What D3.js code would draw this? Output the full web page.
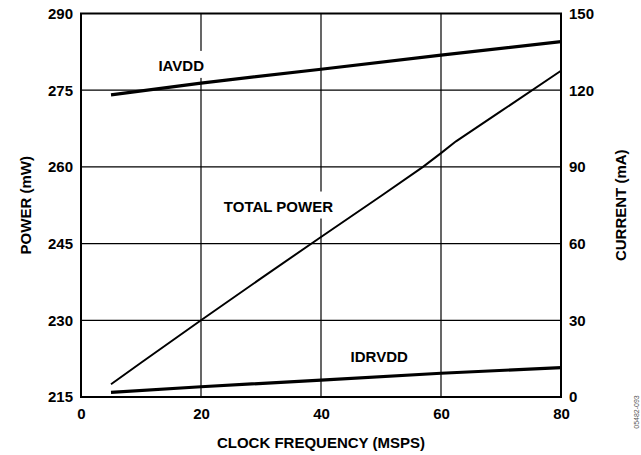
<!DOCTYPE html>
<html>
<head>
<meta charset="utf-8">
<script src="https://cdn.jsdelivr.net/npm/d3@7"></script>
<style>
  body { margin: 0; background: #fff; }
  text { font-family: "Liberation Sans", Arial, sans-serif; font-weight: bold; fill: #000; }
</style>
</head>
<body>
<div id="chart"></div>
<script>
// clock frequency (MSPS) for each series
var freqTotal = [5, 10, 20, 30, 40, 50, 57, 60, 62.5, 70, 80];
var totalPower = [217.5, 221.7, 230, 238.2, 246.3, 254.3, 260, 262.7, 265, 270.9, 278.8];

var freqCurrent = [5, 20, 40, 60, 80];
var iavdd = [118.2, 122.8, 128.2, 133.7, 139];
var idrvdd = [1.8, 4.0, 6.6, 9.3, 11.5];

var xTicks = [0, 20, 40, 60, 80];
var powerTicks = [215, 230, 245, 260, 275, 290];
var currentTicks = [0, 30, 60, 90, 120, 150];

var margin = {top: 13.5, right: 80, bottom: 58, left: 81};
var W = 641, H = 455;
var width = W - margin.left - margin.right;
var height = H - margin.top - margin.bottom;
var fs = '15px';

var x = d3.scaleLinear().domain([0, 80]).range([0, width]);
var yP = d3.scaleLinear().domain([215, 290]).range([height, 0]);
var yC = d3.scaleLinear().domain([0, 150]).range([height, 0]);

var svg = d3.select('#chart').append('svg')
  .attr('width', W)
  .attr('height', H);

var g = svg.append('g')
  .attr('transform', 'translate(' + margin.left + ',' + margin.top + ')');

// grid
g.append('g')
  .selectAll('line')
  .data(xTicks.slice(1, -1))
  .enter().append('line')
  .attr('x1', function(d) { return x(d); })
  .attr('x2', function(d) { return x(d); })
  .attr('y1', 0)
  .attr('y2', height)
  .attr('stroke', '#000')
  .attr('stroke-width', 1.2);

g.append('g')
  .selectAll('line')
  .data(powerTicks.slice(1, -1))
  .enter().append('line')
  .attr('x1', 0)
  .attr('x2', width)
  .attr('y1', function(d) { return yP(d); })
  .attr('y2', function(d) { return yP(d); })
  .attr('stroke', '#000')
  .attr('stroke-width', 1.2);

var labels = [
  {text: 'IAVDD', f: 16.7, p: 279.8},
  {text: 'TOTAL POWER', f: 32.9, p: 252.3},
  {text: 'IDRVDD', f: 49.7, p: 222.9}
];

// axes
var xAxis = d3.axisBottom(x).tickValues(xTicks).tickSize(0).tickPadding(11);
var yAxis = d3.axisLeft(yP).tickValues(powerTicks).tickSize(0).tickPadding(8);
var yRightAxis = d3.axisRight(yC).tickValues(currentTicks).tickSize(0).tickPadding(8);

function styleAxis(sel) {
  sel.select('.domain').remove();
  sel.selectAll('text')
    .style('font-size', fs)
    .style('font-family', '"Liberation Sans", Arial, sans-serif')
    .style('font-weight', 'bold');
}

g.append('g')
  .attr('transform', 'translate(0,' + height + ')')
  .call(xAxis)
  .call(styleAxis);

g.append('g')
  .call(yAxis)
  .call(styleAxis);

g.append('g')
  .attr('transform', 'translate(' + width + ',0)')
  .call(yRightAxis)
  .call(styleAxis);

var lineTotal = d3.line()
  .x(function(d, i) { return x(freqTotal[i]); })
  .y(function(d) { return yP(d); });

var lineCurrent = d3.line()
  .x(function(d, i) { return x(freqCurrent[i]); })
  .y(function(d) { return yC(d); });

// series labels with white knockout behind them
var lab = g.append('g').selectAll('g')
  .data(labels)
  .enter().append('g')
  .attr('transform', function(d) { return 'translate(' + x(d.f) + ',' + yP(d.p) + ')'; });

lab.append('text')
  .attr('text-anchor', 'middle')
  .attr('dy', '0.35em')
  .style('font-size', fs)
  .text(function(d) { return d.text; })
  .each(function() {
    var b = this.getBBox();
    d3.select(this.parentNode).insert('rect', 'text')
      .attr('x', b.x - 4)
      .attr('y', b.y - 6)
      .attr('width', b.width + 8)
      .attr('height', b.height + 10)
      .attr('fill', '#fff');
  });

g.append('path')
  .datum(totalPower)
  .attr('d', lineTotal)
  .attr('fill', 'none')
  .attr('stroke', '#000')
  .attr('stroke-width', 2);

g.append('path')
  .datum(iavdd)
  .attr('d', lineCurrent)
  .attr('fill', 'none')
  .attr('stroke', '#000')
  .attr('stroke-width', 3.2);

g.append('path')
  .datum(idrvdd)
  .attr('d', lineCurrent)
  .attr('fill', 'none')
  .attr('stroke', '#000')
  .attr('stroke-width', 3.2);

// frame
g.append('rect')
  .attr('width', width)
  .attr('height', height)
  .attr('fill', 'none')
  .attr('stroke', '#000')
  .attr('stroke-width', 2);

// titles
svg.append('text')
  .attr('x', margin.left + width / 2)
  .attr('y', 448)
  .attr('text-anchor', 'middle')
  .style('font-size', fs)
  .text('CLOCK FREQUENCY (MSPS)');

svg.append('text')
  .attr('transform', 'translate(30.5,' + (margin.top + height / 2) + ') rotate(-90)')
  .attr('text-anchor', 'middle')
  .style('font-size', fs)
  .text('POWER (mW)');

svg.append('text')
  .attr('transform', 'translate(625.5,' + (margin.top + height / 2) + ') rotate(-90)')
  .attr('text-anchor', 'middle')
  .style('font-size', fs)
  .text('CURRENT (mA)');

svg.append('text')
  .attr('transform', 'translate(639,412) rotate(-90)')
  .attr('text-anchor', 'middle')
  .style('font-size', '7px')
  .style('font-weight', 'normal')
  .style('fill', '#555')
  .text('05482-093');
</script>
</body>
</html>
